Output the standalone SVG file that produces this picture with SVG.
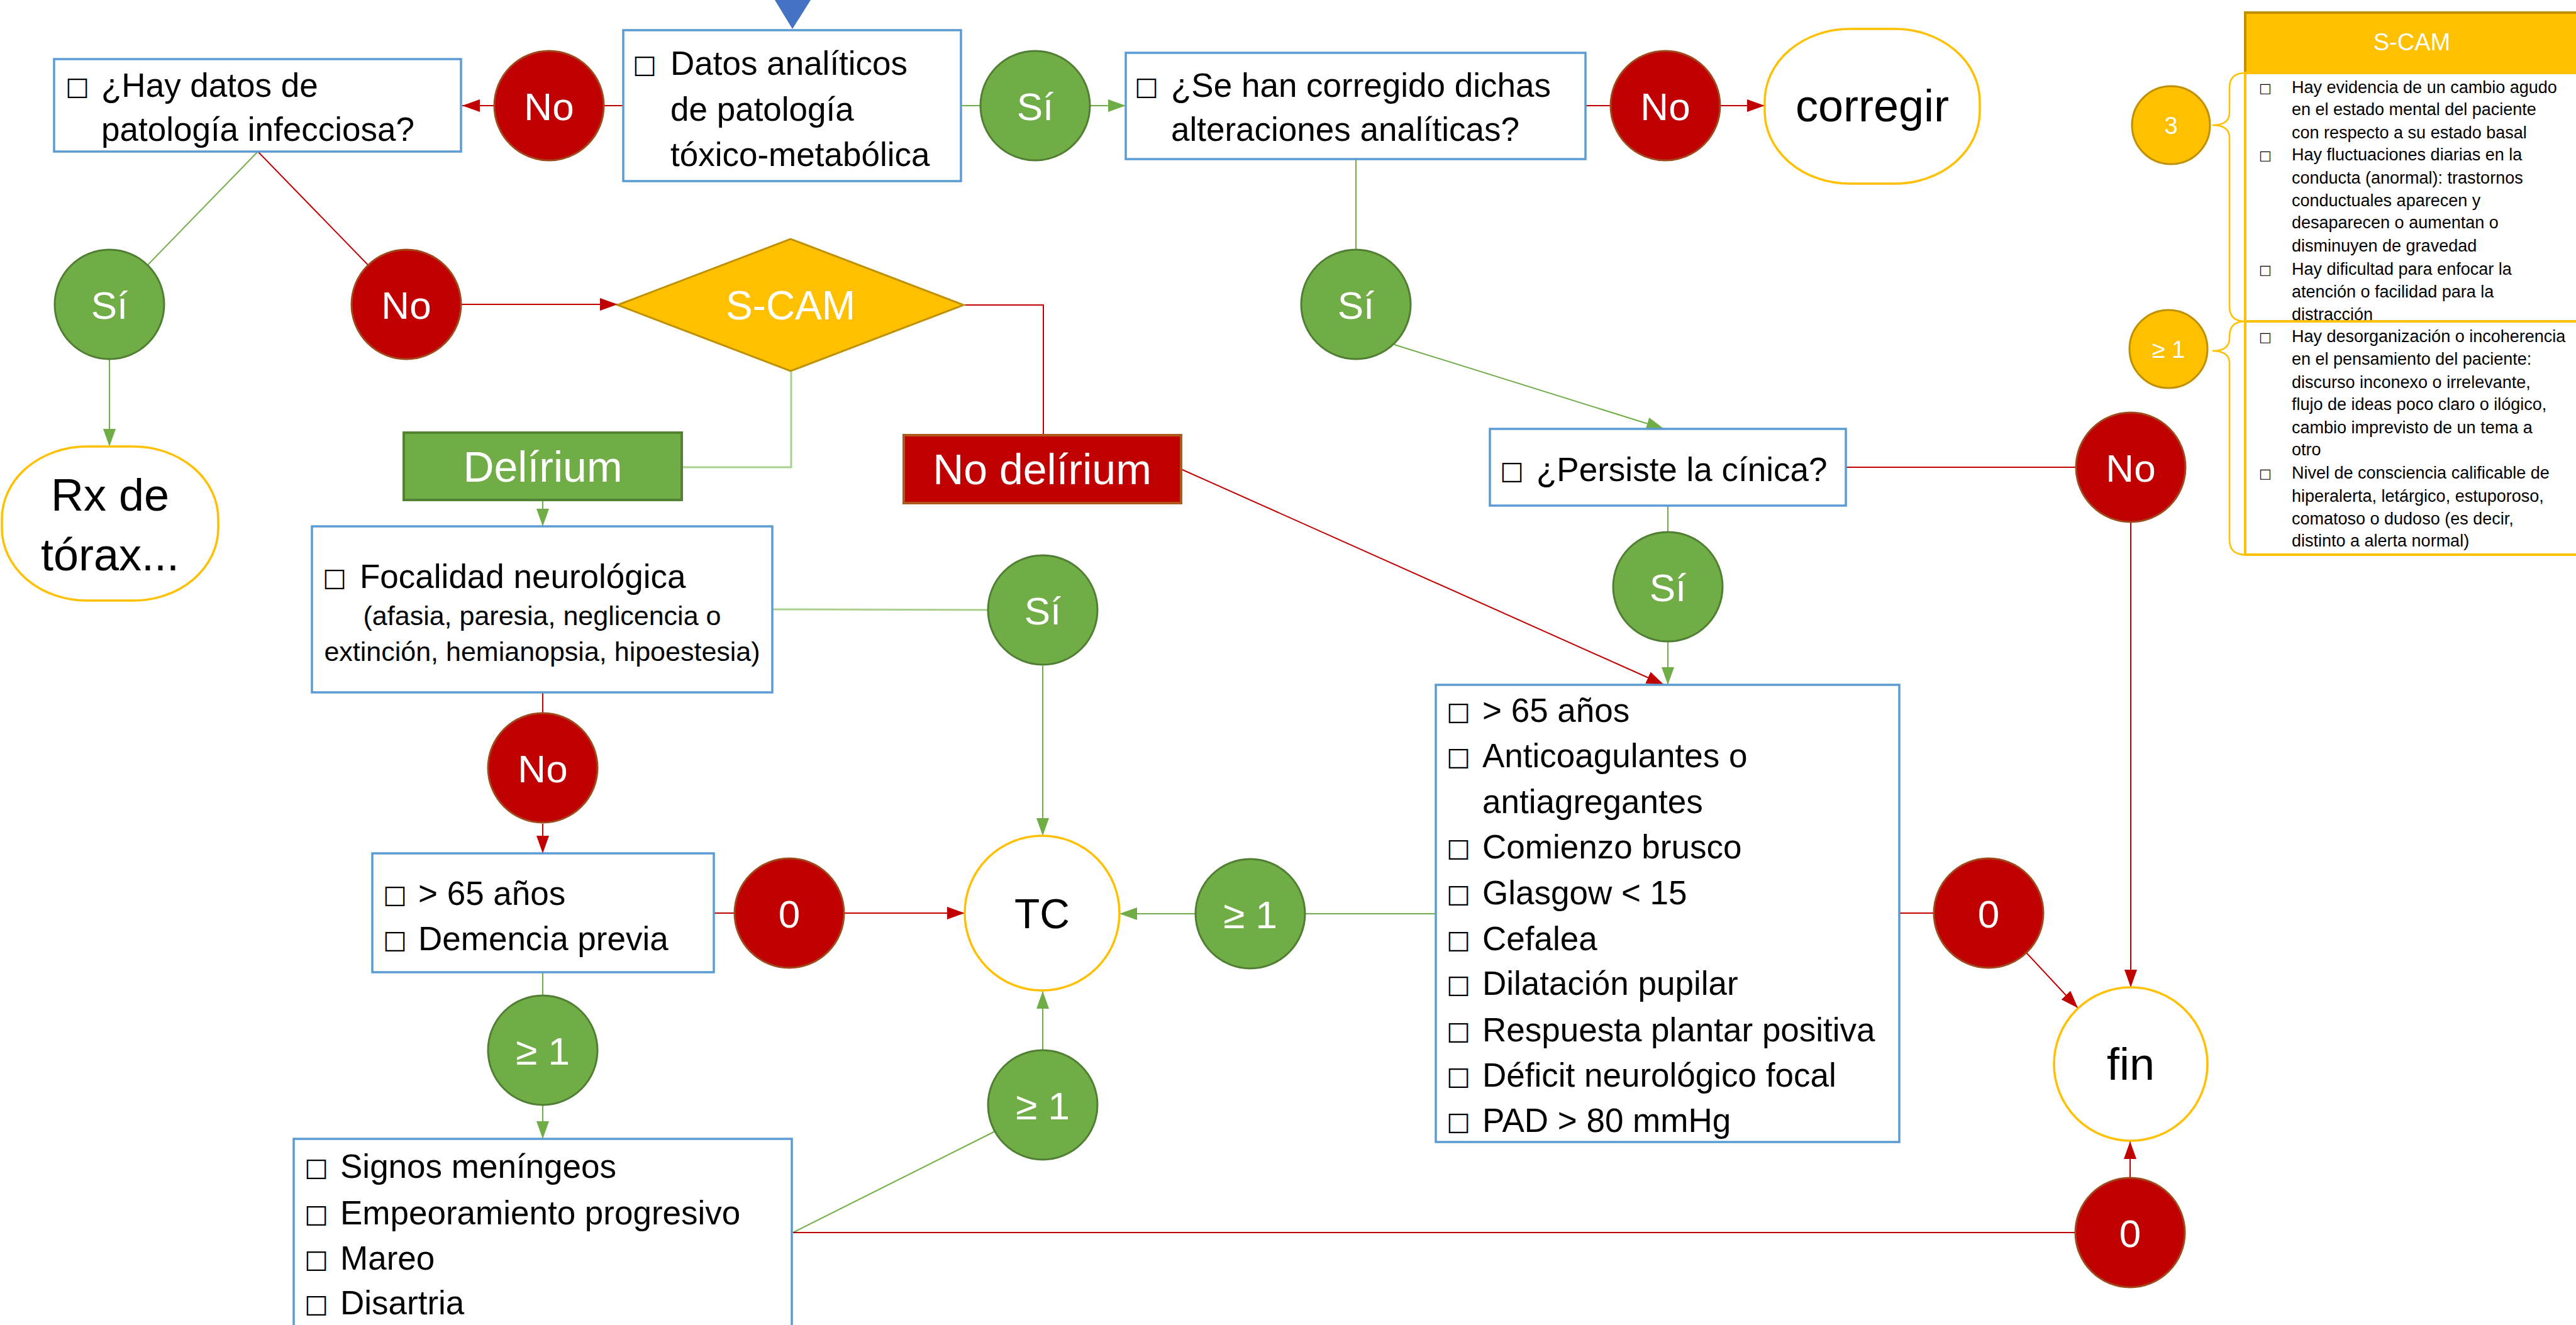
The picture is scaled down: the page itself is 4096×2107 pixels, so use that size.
<svg xmlns="http://www.w3.org/2000/svg" width="4096" height="2107" viewBox="0 0 4096 2107">
<style>
.bg{fill:#fff}
.box{fill:#fff;stroke:#5B9BD5;stroke-width:3.5}
.t{font-family:"Liberation Sans",Arial,sans-serif;font-size:53px;fill:#000}
.ts{font-family:"Liberation Sans",Arial,sans-serif;font-size:43px;fill:#000;text-anchor:middle}
.sq{font-family:"DejaVu Sans",sans-serif;font-size:40px;fill:#000}
.g{fill:#70AD47;stroke:#507E32;stroke-width:3}
.r{fill:#C00000;stroke:#A0481A;stroke-width:3}
.y{fill:#FFC000;stroke:#BF9000;stroke-width:3}
.term{fill:#fff;stroke:#FFC000;stroke-width:3.5}
.cl{font-family:"Liberation Sans",Arial,sans-serif;font-size:62px;fill:#fff;text-anchor:middle}
.big{font-family:"Liberation Sans",Arial,sans-serif;font-size:72px;fill:#000;text-anchor:middle}
.wl{font-family:"Liberation Sans",Arial,sans-serif;font-size:68px;fill:#fff;text-anchor:middle}
.lg{stroke:#70AD47;stroke-width:2;fill:none}
.llg{stroke:#A9D18E;stroke-width:3;fill:none}
.lr{stroke:#C00000;stroke-width:2;fill:none}
.pt{font-family:"Liberation Sans",Arial,sans-serif;font-size:27px;fill:#000}
.psq{font-family:"DejaVu Sans",sans-serif;font-size:21px;fill:#000}
.pc{font-family:"Liberation Sans",Arial,sans-serif;font-size:38px;fill:#fff;text-anchor:middle}
.brace{stroke:#FFC000;stroke-width:2.5;fill:none}
</style>
<defs>
<marker id="ag" markerUnits="userSpaceOnUse" markerWidth="28" markerHeight="20" viewBox="0 0 28 20" refX="28" refY="10" orient="auto"><path d="M0,0 L28,10 L0,20 z" fill="#70AD47"/></marker>
<marker id="ar" markerUnits="userSpaceOnUse" markerWidth="28" markerHeight="20" viewBox="0 0 28 20" refX="28" refY="10" orient="auto"><path d="M0,0 L28,10 L0,20 z" fill="#C00000"/></marker>
</defs>
<rect class="bg" x="0" y="0" width="4096" height="2107"/>

<g id="connectors">
<polygon points="1232,0 1289,0 1260,46" fill="#4472C4"/>
<line class="lr" x1="991" y1="168" x2="959" y2="168"/>
<line class="lr" x1="787" y1="168" x2="735" y2="168" marker-end="url(#ar)"/>
<line class="lg" x1="1528" y1="168" x2="1600" y2="168"/>
<line class="lg" x1="1732" y1="168" x2="1790" y2="168" marker-end="url(#ag)"/>
<line class="lr" x1="2521" y1="168" x2="2600" y2="168"/>
<line class="lr" x1="2735" y1="168" x2="2806" y2="168" marker-end="url(#ar)"/>
<line class="lg" x1="410" y1="241" x2="174" y2="484"/>
<line class="lr" x1="410" y1="241" x2="646" y2="484"/>
<line class="lg" x1="174" y1="572" x2="174" y2="710" marker-end="url(#ag)"/>
<line class="lr" x1="733" y1="484" x2="982" y2="484" marker-end="url(#ar)"/>
<polyline class="lr" points="1532,485 1659,485 1659,692"/>
<polyline class="llg" points="1258,590 1258,743 1084,743"/>
<line class="lg" x1="2156" y1="253" x2="2156" y2="450"/>
<line class="lg" x1="2217" y1="548" x2="2646" y2="682" marker-end="url(#ag)"/>
<line class="lr" x1="2935" y1="743" x2="3340" y2="743"/>
<line class="lr" x1="3388" y1="831" x2="3388" y2="1570" marker-end="url(#ar)"/>
<line class="lr" x1="1878" y1="746" x2="2646" y2="1089" marker-end="url(#ar)"/>
<line class="lg" x1="2652" y1="804" x2="2652" y2="880"/>
<line class="lg" x1="2652" y1="1021" x2="2652" y2="1089" marker-end="url(#ag)"/>
<line class="lg" x1="863" y1="795" x2="863" y2="837" marker-end="url(#ag)"/>
<line class="llg" x1="1228" y1="969" x2="1610" y2="970"/>
<line class="lg" x1="1658" y1="1059" x2="1658" y2="1329" marker-end="url(#ag)"/>
<line class="lr" x1="863" y1="1101" x2="863" y2="1160"/>
<line class="lr" x1="863" y1="1310" x2="863" y2="1357" marker-end="url(#ar)"/>
<line class="lr" x1="1135" y1="1452" x2="1200" y2="1452"/>
<line class="lr" x1="1342" y1="1452" x2="1534" y2="1452" marker-end="url(#ar)"/>
<line class="lg" x1="2283" y1="1453" x2="2030" y2="1453"/>
<line class="lg" x1="1901" y1="1453" x2="1780" y2="1453" marker-end="url(#ag)"/>
<line class="lr" x1="3020" y1="1452" x2="3110" y2="1452"/>
<line class="lr" x1="3222" y1="1515" x2="3304" y2="1603" marker-end="url(#ar)"/>
<line class="lg" x1="863" y1="1546" x2="863" y2="1600"/>
<line class="lg" x1="863" y1="1758" x2="863" y2="1811" marker-end="url(#ag)"/>
<line class="lg" x1="1658" y1="1669" x2="1658" y2="1576" marker-end="url(#ag)"/>
<line class="lg" x1="1261" y1="1960" x2="1620" y2="1780"/>
<line class="lr" x1="1261" y1="1960" x2="3330" y2="1960"/>
<line class="lr" x1="3387" y1="1873" x2="3387" y2="1815" marker-end="url(#ar)"/>
</g>

<g id="n-datos">
<rect class="box" x="991" y="48" width="537" height="240"/>
<text class="sq" x="1006" y="116">□</text>
<text class="t" x="1066" y="119">Datos analíticos</text>
<text class="t" x="1066" y="192">de patología</text>
<text class="t" x="1066" y="264">tóxico-metabólica</text>
</g>
<g id="n-hay">
<rect class="box" x="86" y="94" width="647" height="147"/>
<text class="sq" x="104" y="151">□</text>
<text class="t" x="161" y="154">¿Hay datos de</text>
<text class="t" x="161" y="224">patología infecciosa?</text>
</g>
<g id="n-sehan">
<rect class="box" x="1790" y="84" width="731" height="169"/>
<text class="sq" x="1804" y="151">□</text>
<text class="t" x="1862" y="154">¿Se han corregido dichas</text>
<text class="t" x="1862" y="224">alteraciones analíticas?</text>
</g>
<g id="n-corregir">
<rect class="term" x="2806" y="46" width="342" height="246" rx="135" ry="115"/>
<text class="big" x="2977" y="193">corregir</text>
</g>
<g id="n-rx">
<rect class="term" x="3" y="710" width="344" height="245" rx="135" ry="115"/>
<text class="big" x="175" y="812">Rx de</text>
<text class="big" x="175" y="907">tórax...</text>
</g>
<g id="n-scam">
<polygon class="y" points="982,485 1257,380 1532,485 1257,590"/>
<text class="cl" x="1257" y="508" style="font-size:64px">S-CAM</text>
</g>
<g id="n-delirium">
<rect x="642" y="688" width="442" height="107" fill="#70AD47" stroke="#548235" stroke-width="4"/>
<text class="wl" x="863" y="766">Delírium</text>
</g>
<g id="n-nodelirium">
<rect x="1437" y="692" width="441" height="108" fill="#C00000" stroke="#B0581C" stroke-width="4"/>
<text class="wl" x="1657" y="770">No delírium</text>
</g>
<g id="n-persiste">
<rect class="box" x="2369" y="682" width="566" height="122"/>
<text class="sq" x="2385" y="762">□</text>
<text class="t" x="2443" y="765">¿Persiste la cínica?</text>
</g>
<g id="n-focalidad">
<rect class="box" x="496" y="837" width="732" height="264"/>
<text class="sq" x="513" y="932">□</text>
<text class="t" x="572" y="935">Focalidad neurológica</text>
<text class="ts" x="862" y="994">(afasia, paresia, neglicencia o</text>
<text class="ts" x="862" y="1051">extinción, hemianopsia, hipoestesia)</text>
</g>
<g id="n-edad">
<rect class="box" x="592" y="1357" width="543" height="189"/>
<text class="sq" x="609" y="1436">□</text>
<text class="t" x="665" y="1439">&gt; 65 años</text>
<text class="sq" x="609" y="1508">□</text>
<text class="t" x="665" y="1511">Demencia previa</text>
</g>
<g id="n-signos">
<rect class="box" x="467" y="1811" width="792" height="310"/>
<text class="sq" x="484" y="1870">□</text>
<text class="t" x="541" y="1873">Signos meníngeos</text>
<text class="sq" x="484" y="1944">□</text>
<text class="t" x="541" y="1947">Empeoramiento progresivo</text>
<text class="sq" x="484" y="2016">□</text>
<text class="t" x="541" y="2019">Mareo</text>
<text class="sq" x="484" y="2087">□</text>
<text class="t" x="541" y="2090">Disartria</text>
</g>
<g id="n-riesgo">
<rect class="box" x="2283" y="1089" width="737" height="727"/>
<text class="sq" x="2300" y="1145">□</text>
<text class="t" x="2357" y="1148">&gt; 65 años</text>
<text class="sq" x="2300" y="1217">□</text>
<text class="t" x="2357" y="1220">Anticoagulantes o</text>
<text class="t" x="2357" y="1293">antiagregantes</text>
<text class="sq" x="2300" y="1362">□</text>
<text class="t" x="2357" y="1365">Comienzo brusco</text>
<text class="sq" x="2300" y="1435">□</text>
<text class="t" x="2357" y="1438">Glasgow &lt; 15</text>
<text class="sq" x="2300" y="1508">□</text>
<text class="t" x="2357" y="1511">Cefalea</text>
<text class="sq" x="2300" y="1579">□</text>
<text class="t" x="2357" y="1582">Dilatación pupilar</text>
<text class="sq" x="2300" y="1653">□</text>
<text class="t" x="2357" y="1656">Respuesta plantar positiva</text>
<text class="sq" x="2300" y="1725">□</text>
<text class="t" x="2357" y="1728">Déficit neurológico focal</text>
<text class="sq" x="2300" y="1797">□</text>
<text class="t" x="2357" y="1800">PAD &gt; 80 mmHg</text>
</g>
<g id="n-tc">
<circle cx="1657" cy="1452" r="123" fill="#fff" stroke="#FFC000" stroke-width="3.5"/>
<text class="big" x="1657" y="1476" style="font-size:66px">TC</text>
</g>
<g id="n-fin">
<circle cx="3388" cy="1692" r="122" fill="#fff" stroke="#FFC000" stroke-width="3.5"/>
<text class="big" x="3388" y="1717">fin</text>
</g>

<g id="c-no1"><circle class="r" cx="873" cy="168" r="87"/><text class="cl" x="873" y="191">No</text></g>
<g id="c-si1"><circle class="g" cx="1646" cy="168" r="87"/><text class="cl" x="1646" y="191">Sí</text></g>
<g id="c-no2"><circle class="r" cx="2648" cy="168" r="87"/><text class="cl" x="2648" y="191">No</text></g>
<g id="c-si2"><circle class="g" cx="174" cy="484" r="87"/><text class="cl" x="174" y="507">Sí</text></g>
<g id="c-no3"><circle class="r" cx="646" cy="484" r="87"/><text class="cl" x="646" y="507">No</text></g>
<g id="c-si3"><circle class="g" cx="2156" cy="484" r="87"/><text class="cl" x="2156" y="507">Sí</text></g>
<g id="c-no4"><circle class="r" cx="3388" cy="743" r="87"/><text class="cl" x="3388" y="766">No</text></g>
<g id="c-si4"><circle class="g" cx="1658" cy="970" r="87"/><text class="cl" x="1658" y="993">Sí</text></g>
<g id="c-si5"><circle class="g" cx="2652" cy="933" r="87"/><text class="cl" x="2652" y="956">Sí</text></g>
<g id="c-no5"><circle class="r" cx="863" cy="1221" r="87"/><text class="cl" x="863" y="1244">No</text></g>
<g id="c-z1"><circle class="r" cx="1255" cy="1452" r="87"/><text class="cl" x="1255" y="1475">0</text></g>
<g id="c-ge1"><circle class="g" cx="1988" cy="1453" r="87"/><text class="cl" x="1988" y="1476">≥ 1</text></g>
<g id="c-z2"><circle class="r" cx="3162" cy="1452" r="87"/><text class="cl" x="3162" y="1475">0</text></g>
<g id="c-ge2"><circle class="g" cx="863" cy="1670" r="87"/><text class="cl" x="863" y="1693">≥ 1</text></g>
<g id="c-ge3"><circle class="g" cx="1658" cy="1757" r="87"/><text class="cl" x="1658" y="1780">≥ 1</text></g>
<g id="c-z3"><circle class="r" cx="3387" cy="1960" r="87"/><text class="cl" x="3387" y="1983">0</text></g>

<g id="panel-scam">
<rect x="3570" y="20" width="540" height="96" fill="#FFC000" stroke="#BF9000" stroke-width="4"/>
<text class="pc" x="3835" y="80">S-CAM</text>
<rect x="3570" y="116" width="540" height="766" fill="none" stroke="#FFC000" stroke-width="4"/>
<line x1="3570" y1="511" x2="4096" y2="511" stroke="#FFC000" stroke-width="4"/>
<path class="brace" d="M3570,116 Q3545,116 3545,140 L3545,179 Q3545,199 3518,199 Q3545,199 3545,219 L3545,487 Q3545,511 3570,511"/>
<path class="brace" d="M3570,511 Q3545,511 3545,535 L3545,538 Q3545,558 3518,558 Q3545,558 3545,578 L3545,858 Q3545,882 3570,882"/>
<circle class="y" cx="3452" cy="199" r="62"/>
<text class="pc" x="3452" y="213">3</text>
<circle class="y" cx="3448" cy="555" r="62"/>
<text class="pc" x="3448" y="569">≥ 1</text>
<text class="psq" x="3592" y="147">□</text>
<text class="pt" x="3644" y="148">Hay evidencia de un cambio agudo</text>
<text class="pt" x="3644" y="183">en el estado mental del paciente</text>
<text class="pt" x="3644" y="220">con respecto a su estado basal</text>
<text class="psq" x="3592" y="254">□</text>
<text class="pt" x="3644" y="255">Hay fluctuaciones diarias en la</text>
<text class="pt" x="3644" y="292">conducta (anormal): trastornos</text>
<text class="pt" x="3644" y="328">conductuales aparecen y</text>
<text class="pt" x="3644" y="363">desaparecen o aumentan o</text>
<text class="pt" x="3644" y="400">disminuyen de gravedad</text>
<text class="psq" x="3592" y="436">□</text>
<text class="pt" x="3644" y="437">Hay dificultad para enfocar la</text>
<text class="pt" x="3644" y="473">atención o facilidad para la</text>
<text class="pt" x="3644" y="509">distracción</text>
<text class="psq" x="3592" y="543">□</text>
<text class="pt" x="3644" y="544">Hay desorganización o incoherencia</text>
<text class="pt" x="3644" y="580">en el pensamiento del paciente:</text>
<text class="pt" x="3644" y="617">discurso inconexo o irrelevante,</text>
<text class="pt" x="3644" y="652">flujo de ideas poco claro o  ilógico,</text>
<text class="pt" x="3644" y="689">cambio imprevisto de un tema a</text>
<text class="pt" x="3644" y="724">otro</text>
<text class="psq" x="3592" y="760">□</text>
<text class="pt" x="3644" y="761">Nivel de consciencia calificable de</text>
<text class="pt" x="3644" y="798">hiperalerta, letárgico, estuporoso,</text>
<text class="pt" x="3644" y="834">comatoso o dudoso (es decir,</text>
<text class="pt" x="3644" y="869">distinto a alerta normal)</text>
</g>
</svg>
